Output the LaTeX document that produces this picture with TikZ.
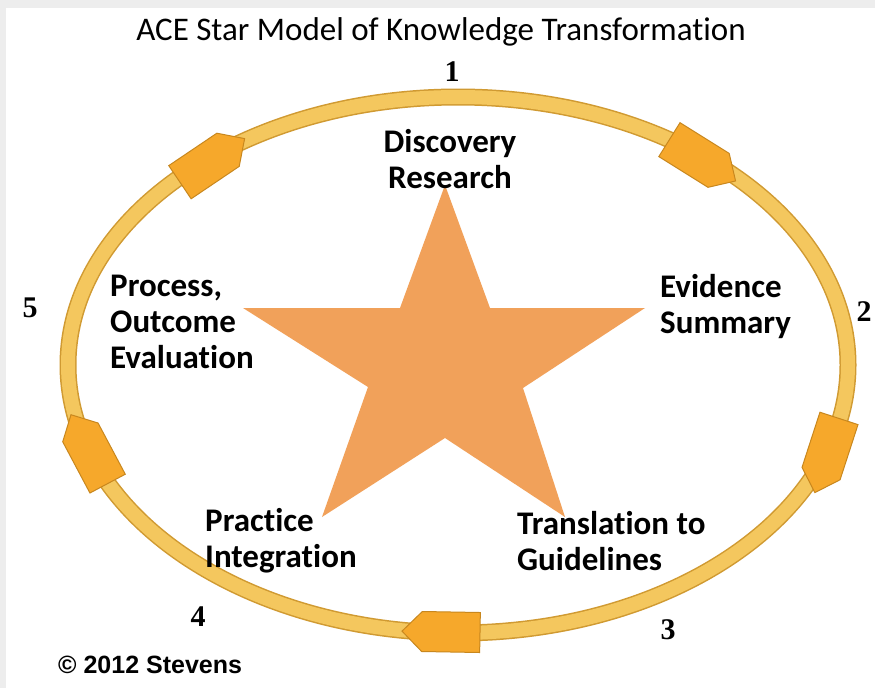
\documentclass[tikz,border=0pt]{standalone}
\usepackage{fontspec}
\setmainfont{Carlito}[Ligatures=NoCommon]
\newfontfamily\numfont{Liberation Serif}
\newfontfamily\notefont{Liberation Sans}
\usetikzlibrary{shapes.symbols}
\definecolor{ringfill}{HTML}{F4C75E}
\definecolor{ringline}{HTML}{D09A32}
\definecolor{tabfill}{HTML}{F6A82B}
\definecolor{tabline}{HTML}{C8871E}
\definecolor{starfill}{HTML}{F1A15A}
\tikzset{
  stage/.style={align=left, inner sep=0pt, font=\fontsize{33}{36}\selectfont\bfseries},
  num/.style={inner sep=0pt, font=\fontsize{30}{30}\selectfont\numfont\bfseries},
  ringtab/.style={shape=signal, signal to=east, fill=tabfill, draw=tabline, line width=1pt,
    minimum width=78pt, minimum height=40pt, inner sep=0pt}
}
\begin{document}
\begin{tikzpicture}[x=1pt,y=-1pt]
\useasboundingbox (0,0) rectangle (875,688);
\fill[white] (0,0) rectangle (875,688);
\fill[black!7] (0,0) rectangle (875,8); \fill[black!7] (0,0) rectangle (6,688);
\node (title) at (441,32) {\fontsize{33}{33}\selectfont ACE Star Model of Knowledge Transformation};
%ring with the five tabs, clockwise
\draw[ringline, line width=17pt] (458,365) ellipse [x radius=390pt, y radius=268pt];
\draw[ringfill, line width=14pt] (458,365) ellipse [x radius=390pt, y radius=268pt];
\node[ringtab, rotate=34] (t1) at (204,166) {};
\node[ringtab, rotate=-32] (t2) at (694,155) {};
\node[ringtab, rotate=-108] (t3) at (830,446) {};
\node[ringtab, rotate=179] (t4) at (451,632) {};
\node[ringtab, rotate=118] (t5) at (94,458) {};
%star
\fill[starfill] (445,185) -- (490,308) -- (645,308) -- (523,388) -- (565,517) -- (445,438)
  -- (322,517) -- (368,387) -- (243,308) -- (400,308) -- cycle;
%stages
\node[stage, align=center] (disc) at (450,159) {Discovery\\Research};
\node[stage, anchor=west] (evid) at (660,307) {Evidence\\Summary};
\node[stage, anchor=west] (trans) at (517,541) {Translation to\\Guidelines};
\node[stage, anchor=west] (prac) at (205,541) {Practice\\Integration};
\node[stage, anchor=west] (eval) at (110,322) {Process,\\Outcome\\Evaluation};
%numbers
\node[num] (n1) at (452,72) {1};
\node[num] (n2) at (864,312) {2};
\node[num] (n3) at (668,630) {3};
\node[num] (n4) at (198,617) {4};
\node[num] (n5) at (30,308) {5};
\node[anchor=west, inner sep=0pt] (copy) at (58,665) {\fontsize{25}{25}\selectfont\notefont\bfseries \textcopyright\ 2012 Stevens};
\end{tikzpicture}
\end{document}
